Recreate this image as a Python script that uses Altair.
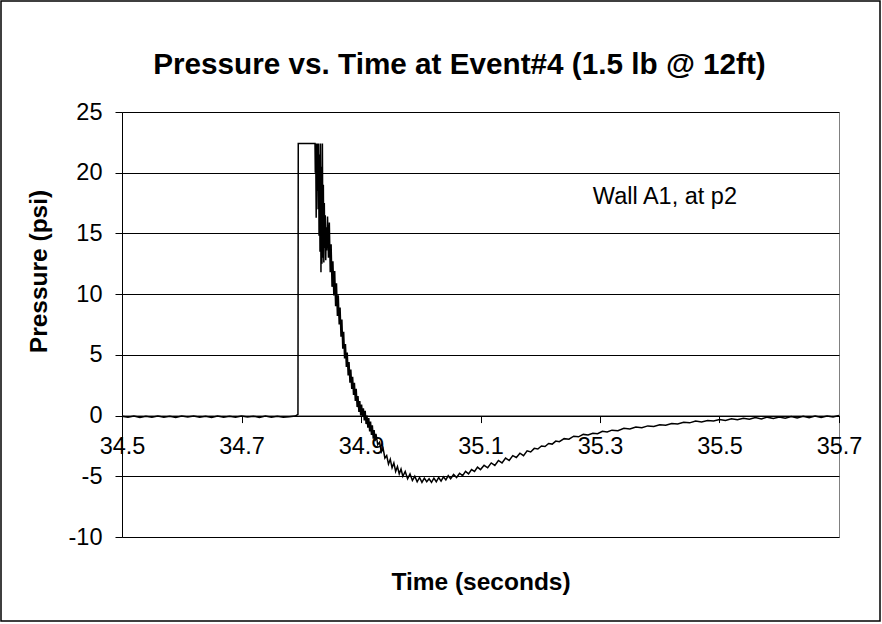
import altair as alt
import pandas as pd

# ---------------- data ----------------
pre_time = [34.500, 34.510, 34.520, 34.530, 34.540, 34.550, 34.560, 34.570, 34.580, 34.590,
            34.600, 34.610, 34.620, 34.630, 34.640, 34.650, 34.660, 34.670, 34.680, 34.690,
            34.700, 34.710, 34.720, 34.730, 34.740, 34.750, 34.760, 34.770, 34.780, 34.790, 34.7945]
pre_pressure = [-0.05, -0.14, -0.03, -0.15, -0.06, -0.13, -0.03, -0.14, -0.05, -0.15,
                -0.04, -0.12, -0.03, -0.14, -0.05, -0.15, -0.04, -0.13, -0.06, -0.14,
                -0.03, -0.12, -0.05, -0.15, -0.04, -0.14, -0.05, -0.13, -0.10, -0.04, 0.10]

spike_time = [34.7950, 34.8230]
spike_pressure = [22.4, 22.4]

peak_time = [34.8235, 34.8242, 34.8250, 34.8258, 34.8266, 34.8274, 34.8282, 34.8290, 34.8298,
             34.8306, 34.8314, 34.8322, 34.8330, 34.8338, 34.8346, 34.8354, 34.8362, 34.8370,
             34.8378, 34.8386, 34.8394, 34.8402, 34.8410, 34.8418]
peak_pressure = [20.0, 22.4, 16.3, 22.4, 18.5, 22.4, 17.0, 22.4, 14.8,
                 21.5, 13.5, 22.4, 11.8, 20.5, 12.5, 22.4, 13.0, 19.0,
                 12.6, 17.5, 13.8, 16.5, 12.8, 15.5]

decay_time = [34.8425, 34.8440, 34.8455, 34.8470, 34.8485, 34.8500, 34.8515, 34.8530, 34.8545,
              34.8560, 34.8575, 34.8590, 34.8605, 34.8620, 34.8635, 34.8650, 34.8665, 34.8680,
              34.8695, 34.8710, 34.8725, 34.8740, 34.8755, 34.8770, 34.8785, 34.8800, 34.8815,
              34.8830, 34.8845, 34.8860, 34.8875, 34.8890, 34.8905, 34.8920, 34.8935, 34.8950,
              34.8965, 34.8980, 34.8995, 34.9010, 34.9025, 34.9040, 34.9055, 34.9070, 34.9085,
              34.9100, 34.9115, 34.9130, 34.9145, 34.9160, 34.9175, 34.9190, 34.9205, 34.9220,
              34.9235, 34.9250]
decay_pressure = [13.6, 16.4, 13.0, 15.9, 11.8, 14.1, 10.6, 12.7, 9.9,
                  11.9, 9.0, 10.9, 8.2, 9.9, 7.5, 8.9, 6.5, 7.9,
                  5.5, 6.9, 4.7, 5.9, 4.0, 5.2, 3.3, 4.4, 2.7,
                  3.8, 2.2, 3.2, 1.7, 2.7, 1.2, 2.2, 0.7, 1.6,
                  0.3, 1.2, 0.0, 0.9, -0.1, 0.6, -0.4, 0.4, -0.7,
                  0.0, -1.0, -0.2, -1.3, -0.5, -1.6, -0.8, -1.9, -1.2,
                  -2.1, -1.5]

tail_time = [34.928, 34.931, 34.934, 34.937, 34.940, 34.943, 34.946, 34.949, 34.952, 34.955,
             34.958, 34.961, 34.964, 34.967, 34.970, 34.974, 34.978, 34.982, 34.986, 34.990,
             34.994, 34.998, 35.002, 35.006, 35.010, 35.014, 35.018, 35.022, 35.026, 35.030,
             35.034, 35.038, 35.042, 35.046, 35.050, 35.055, 35.060, 35.065, 35.070, 35.075,
             35.080, 35.085, 35.090, 35.095, 35.100, 35.106, 35.112, 35.118, 35.124, 35.130,
             35.136, 35.142, 35.148, 35.154, 35.160, 35.166, 35.172, 35.178, 35.184, 35.190,
             35.196, 35.202, 35.208, 35.214, 35.220, 35.226, 35.232, 35.240, 35.248, 35.256,
             35.264, 35.272, 35.280, 35.288, 35.296, 35.304, 35.312, 35.320, 35.330, 35.340,
             35.350, 35.360, 35.370, 35.380, 35.390, 35.400, 35.410, 35.420, 35.430, 35.440,
             35.450, 35.460, 35.470, 35.480, 35.490, 35.500, 35.510, 35.520, 35.530, 35.540,
             35.550, 35.560, 35.570, 35.580, 35.590, 35.600, 35.610, 35.620, 35.630, 35.640,
             35.650, 35.660, 35.670, 35.680, 35.690, 35.700]
tail_pressure = [-2.4, -2.2, -3.0, -2.7, -3.5, -3.3, -4.0, -3.6, -4.3, -3.9,
                 -4.6, -4.2, -4.8, -4.4, -5.0, -4.6, -5.2, -4.8, -5.35, -5.0,
                 -5.45, -5.1, -5.5, -5.15, -5.45, -5.2, -5.5, -5.15, -5.45, -5.1,
                 -5.4, -5.05, -5.3, -4.95, -5.2, -4.85, -5.1, -4.75, -4.95, -4.6,
                 -4.8, -4.45, -4.6, -4.25, -4.45, -4.1, -4.3, -3.9, -4.1, -3.7,
                 -3.9, -3.5, -3.7, -3.3, -3.45, -3.1, -3.3, -2.9, -3.0, -2.7,
                 -2.75, -2.5, -2.55, -2.3, -2.35, -2.1, -2.15, -1.9, -1.95, -1.7,
                 -1.75, -1.55, -1.6, -1.45, -1.5, -1.3, -1.35, -1.2, -1.25, -1.05,
                 -1.1, -0.95, -1.0, -0.85, -0.9, -0.75, -0.8, -0.65, -0.7, -0.55,
                 -0.6, -0.45, -0.52, -0.4, -0.45, -0.32, -0.4, -0.26, -0.35, -0.22,
                 -0.3, -0.16, -0.28, -0.13, -0.24, -0.11, -0.22, -0.08, -0.2, -0.06,
                 -0.18, -0.04, -0.16, -0.03, -0.12, 0.0]

x_ticks = [34.5, 34.7, 34.9, 35.1, 35.3, 35.5, 35.7]
y_ticks = [-10, -5, 0, 5, 10, 15, 20, 25]
x_domain = [34.5, 35.7]
y_domain = [-10, 25]

title_text = "Pressure vs. Time at Event#4 (1.5 lb @ 12ft)"
x_title = "Time (seconds)"
y_title = "Pressure (psi)"
note_text = "Wall A1, at p2"
note_time = 35.288
note_pressure = 17.45

# ---------------- chart ----------------
time = pre_time + spike_time + peak_time + decay_time + tail_time
pressure = pre_pressure + spike_pressure + peak_pressure + decay_pressure + tail_pressure
df = pd.DataFrame({"time": time, "pressure": pressure})

FONT = "Liberation Sans"
W, H = 717, 425
zero_offset = -H * (0 - y_domain[0]) / (y_domain[1] - y_domain[0])

x_scale = alt.Scale(domain=x_domain, nice=False, zero=False)
y_scale = alt.Scale(domain=y_domain, nice=False, zero=False)

line = alt.Chart(df).mark_line(color="black", strokeWidth=1.5).encode(
    x=alt.X("time:Q", scale=x_scale,
            axis=alt.Axis(values=x_ticks, format=".1f", title=x_title, offset=zero_offset,
                          grid=False, tickSize=7, labelPadding=12, labelOverlap=False,
                          labelBound=False, labelFlush=False, titleY=174,
                          titleBaseline="alphabetic", titleFontSize=24.5,
                          titleFontWeight="bold")),
    y=alt.Y("pressure:Q", scale=y_scale,
            axis=alt.Axis(values=y_ticks, labelExpr="'' + datum.value", title=y_title,
                          grid=True, gridColor="black", gridWidth=1, tickSize=7,
                          labelPadding=13, labelOverlap=False, labelBound=False,
                          labelFlush=False, titleX=-83, titleY=159, titleAngle=-90,
                          titleAlign="center", titleBaseline="middle", titleFontSize=24.5,
                          titleFontWeight="bold")),
)

note = alt.Chart(pd.DataFrame({"time": [note_time], "pressure": [note_pressure],
                               "label": [note_text]})).mark_text(
    align="left", baseline="alphabetic", font=FONT, fontSize=23.5, color="black"
).encode(
    x=alt.X("time:Q", scale=x_scale),
    y=alt.Y("pressure:Q", scale=y_scale),
    text="label:N",
)

title = alt.Chart(pd.DataFrame({"label": [title_text]})).mark_text(
    align="center", baseline="alphabetic", font=FONT, fontSize=29.7, fontWeight="bold",
    color="black"
).encode(x=alt.value(337.5), y=alt.value(-38), text="label:N")

border = alt.Chart(pd.DataFrame({"a": [0]})).mark_rect(
    fillOpacity=0, stroke="black", strokeWidth=1.5
).encode(x=alt.value(-121), x2=alt.value(758), y=alt.value(-111), y2=alt.value(509))

chart = alt.layer(border, line, note, title).properties(
    width=W, height=H,
    padding={"left": 122, "top": 112, "right": 43, "bottom": 87},
    autosize=alt.AutoSizeParams(type="none"),
    background="white",
).configure_view(
    stroke="#808080", strokeWidth=1
).configure_axis(
    domainColor="black", domainWidth=1, tickColor="black", tickWidth=1,
    labelFont=FONT, labelFontSize=23.5, labelColor="black",
    titleFont=FONT, titleColor="black",
)

chart.save("out.html", embed_options={"renderer": "svg", "actions": False})
